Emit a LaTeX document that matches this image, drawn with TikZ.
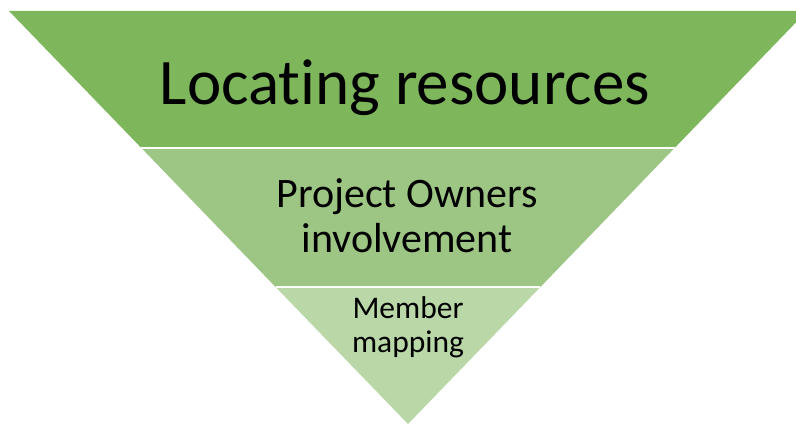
\documentclass[tikz,border=0pt]{standalone}
\usepackage{fontspec}
\setmainfont{Carlito}[RawFeature={-liga}]
\definecolor{bandA}{RGB}{126,182,91}
\definecolor{bandB}{RGB}{157,197,131}
\definecolor{bandC}{RGB}{185,215,167}
\begin{document}
\begin{tikzpicture}[x=1pt,y=1pt,
  band/.style={draw=none},
  sep/.style={draw=white,line width=1.6pt},
  lbl/.style={anchor=base,inner sep=0pt,text=black}]
\useasboundingbox (0,0) rectangle (796,424);
\begin{scope}
\clip (0,0) rectangle (796,424);
% corner coordinates
\coordinate (tl) at (9,413);
\coordinate (tr) at (807,413);
\coordinate (l1) at (141.4,276);
\coordinate (r1) at (674.6,276);
\coordinate (l2) at (275.6,137);
\coordinate (r2) at (540.4,137);
\coordinate (apex) at (408,0);
\fill[bandA] (tl) -- (tr) -- (r1) -- (l1) -- cycle;
\fill[bandB] (l1) -- (r1) -- (r2) -- (l2) -- cycle;
\fill[bandC] (l2) -- (r2) -- (apex) -- cycle;
\draw[sep] (l1) -- (r1);
\draw[sep] (l2) -- (r2);
\end{scope}
\node[lbl,font=\fontsize{65}{78}\selectfont] (top) at (405,319) {Locating resources};
\node[lbl,font=\fontsize{42}{50}\selectfont] (mida) at (407,217) {Project Owners};
\node[lbl,font=\fontsize{42}{50}\selectfont] (midb) at (407,172) {involvement};
\node[lbl,font=\fontsize{31.5}{38}\selectfont] (bota) at (408,106) {Member};
\node[lbl,font=\fontsize{31.5}{38}\selectfont] (botb) at (408,72) {mapping};
\end{tikzpicture}
\end{document}
